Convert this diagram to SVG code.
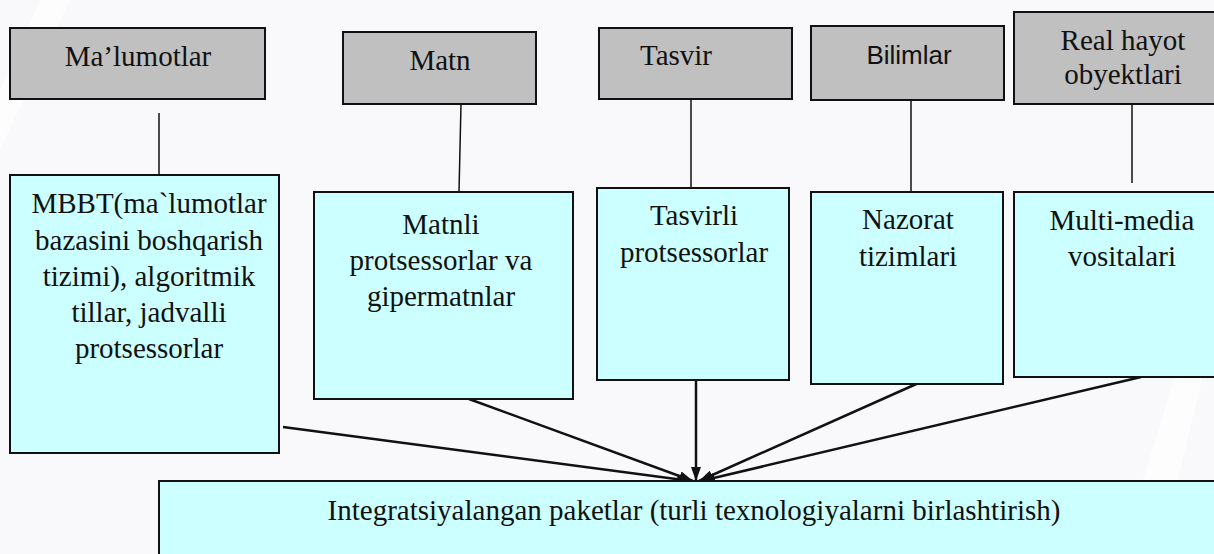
<svg xmlns="http://www.w3.org/2000/svg" width="1214" height="554" viewBox="0 0 1214 554">
  <defs>
    <style>
      .top { fill: #c0c0c0; stroke: #111; stroke-width: 2; }
      .sub { fill: #ccffff; stroke: #111; stroke-width: 2; }
      .t { font-family: "Liberation Serif", "Times New Roman", serif; font-size: 29px; fill: #111; text-anchor: middle; }
      .ts { font-family: "Liberation Sans", Arial, sans-serif; font-size: 26px; fill: #111; text-anchor: middle; }
      .thin { stroke: #111; stroke-width: 1.5; fill: none; }
      .arr { stroke: #111; stroke-width: 2.5; fill: none; marker-end: url(#ah); }
    </style>
    <marker id="ah" viewBox="0 0 14 10" refX="14" refY="5" markerWidth="14" markerHeight="10" markerUnits="userSpaceOnUse" orient="auto">
      <path d="M0,0 L14,5 L0,10 z" fill="#111"/>
    </marker>
  </defs>
  <rect x="0" y="0" width="1214" height="554" fill="#f9f9fc"/>
  <polygon points="40,0 70,0 0,150 0,90" fill="#ffffff" opacity="0.6"/>
  <polygon points="1214,250 1214,330 1160,554 1120,554" fill="#ffffff" opacity="0.6"/>

  <g id="connectors">
    <line class="thin" x1="159" y1="113" x2="159" y2="189"/>
    <line class="thin" x1="461" y1="104" x2="459" y2="192"/>
    <line class="thin" x1="691" y1="99" x2="691" y2="188"/>
    <line class="thin" x1="911" y1="100" x2="911" y2="192"/>
    <line class="thin" x1="1132" y1="104" x2="1132" y2="183"/>
    <line class="arr" x1="283" y1="427" x2="691" y2="481"/>
    <line class="arr" x1="469" y1="399" x2="693" y2="481"/>
    <line class="arr" x1="696" y1="380" x2="696" y2="481"/>
    <line class="arr" x1="923" y1="381" x2="699" y2="481"/>
    <line class="arr" x1="1141" y1="377" x2="701" y2="481"/>
  </g>

  <g id="malumotlar">
    <rect class="top" x="10" y="28" width="255" height="71"/>
    <text class="t" x="138" y="66">Ma’lumotlar</text>
  </g>
  <g id="matn">
    <rect class="top" x="343" y="32" width="193" height="72"/>
    <text class="t" x="440" y="70">Matn</text>
  </g>
  <g id="tasvir">
    <rect class="top" x="599" y="28" width="193" height="71"/>
    <text class="t" x="676" y="65">Tasvir</text>
  </g>
  <g id="bilimlar">
    <rect class="top" x="811" y="26" width="193" height="74"/>
    <text class="ts" x="909" y="64">Bilimlar</text>
  </g>
  <g id="realhayot">
    <rect class="top" x="1014" y="12" width="212" height="92"/>
    <text class="t" x="1123" y="50">Real hayot</text>
    <text class="t" x="1123" y="84">obyektlari</text>
  </g>

  <g id="mbbt">
    <rect class="sub" x="10" y="175" width="269" height="278"/>
    <text class="t" x="149" y="213">MBBT(ma`lumotlar</text>
    <text class="t" x="149" y="250">bazasini boshqarish</text>
    <text class="t" x="149" y="286">tizimi), algoritmik</text>
    <text class="t" x="149" y="322">tillar, jadvalli</text>
    <text class="t" x="149" y="358">protsessorlar</text>
  </g>
  <g id="matnli">
    <rect class="sub" x="314" y="192" width="259" height="207"/>
    <text class="t" x="441" y="234">Matnli</text>
    <text class="t" x="441" y="270">protsessorlar va</text>
    <text class="t" x="441" y="306">gipermatnlar</text>
  </g>
  <g id="tasvirli">
    <rect class="sub" x="597" y="188" width="192" height="192"/>
    <text class="t" x="694" y="225">Tasvirli</text>
    <text class="t" x="694" y="262">protsessorlar</text>
  </g>
  <g id="nazorat">
    <rect class="sub" x="811" y="192" width="192" height="192"/>
    <text class="t" x="908" y="229">Nazorat</text>
    <text class="t" x="908" y="266">tizimlari</text>
  </g>
  <g id="multimedia">
    <rect class="sub" x="1014" y="192" width="212" height="185"/>
    <text class="t" x="1122" y="230">Multi-media</text>
    <text class="t" x="1122" y="266">vositalari</text>
  </g>
  <g id="integrated">
    <rect class="sub" x="159" y="481" width="1067" height="90"/>
    <text class="t" x="694" y="520">Integratsiyalangan paketlar (turli texnologiyalarni birlashtirish)</text>
  </g>
</svg>
